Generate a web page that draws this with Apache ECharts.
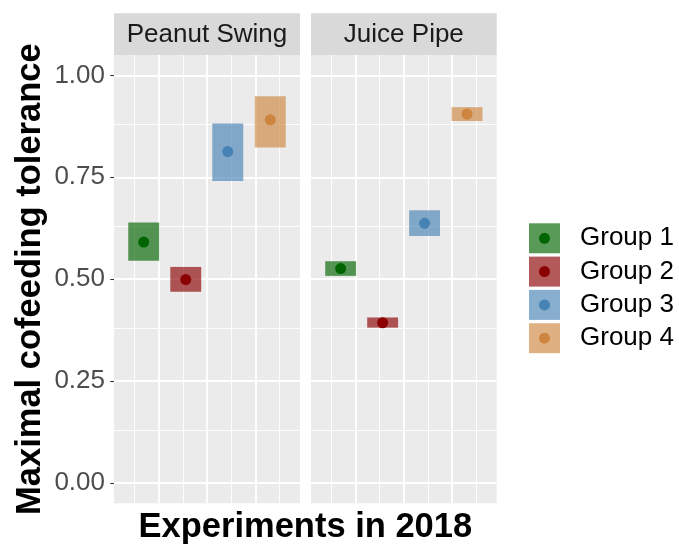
<!DOCTYPE html>
<html>
<head>
<meta charset="utf-8">
<script src="https://cdn.jsdelivr.net/npm/echarts@6/dist/echarts.min.js"></script>
<style>
  html, body { margin: 0; padding: 0; background: #ffffff; }
  #chart { width: 679px; height: 545px; }
</style>
</head>
<body>
<div id="chart"></div>
<script>
// Facets and groups
const panels = ['Peanut Swing', 'Juice Pipe'];
const groups = ['Group 1', 'Group 2', 'Group 3', 'Group 4'];
const groupX = [0.69, 1.56, 2.43, 3.31];

// Estimates with lower / upper bounds, one row per facet
const estimate = [
  [0.591, 0.499, 0.813, 0.891],
  [0.526, 0.393, 0.637, 0.905]
];
const lower = [
  [0.545, 0.469, 0.741, 0.823],
  [0.508, 0.381, 0.606, 0.888]
];
const upper = [
  [0.639, 0.530, 0.882, 0.949],
  [0.544, 0.406, 0.669, 0.922]
];

// Axis breaks
const yBreaks = [0, 0.25, 0.5, 0.75, 1];
const yMinorBreaks = [0.125, 0.375, 0.625, 0.875];
const xBreaks = [1, 2, 3];
const xMinorBreaks = [0.5, 1.5, 2.5, 3.5];

const pointColors = ['#006400', '#8B0000', '#4682B4', '#CD853F'];
const fillColors = ['rgba(0,100,0,0.65)', 'rgba(139,0,0,0.65)', 'rgba(70,130,180,0.65)', 'rgba(205,133,63,0.65)'];

const FONT = 'Liberation Sans, Arial, sans-serif';
const boxHalfWidth = 0.32;
const yRange = [-0.05, 1.05];
const xRange = [0.075, 3.925];

const panelBoxes = [
  { left: 114, width: 186 },
  { left: 311, width: 185.7 }
];
const panelTop = 55, panelHeight = 448.3;
const stripTop = 13.3, stripHeight = 41.7;

const grids = panelBoxes.map(b => ({
  left: b.left, top: panelTop, width: b.width, height: panelHeight,
  show: true, backgroundColor: '#EBEBEB', borderWidth: 0
}));

const xAxes = panelBoxes.map((b, i) => ({
  type: 'value', gridIndex: i, min: xRange[0], max: xRange[1], show: false
}));

const yAxes = panelBoxes.map((b, i) => ({
  type: 'value', gridIndex: i, min: yRange[0], max: yRange[1],
  show: i === 0,
  name: i === 0 ? 'Maximal cofeeding tolerance' : '',
  nameLocation: 'middle',
  nameGap: 66,
  nameTextStyle: { fontSize: 34.5, fontWeight: 'bold', color: '#000000', fontFamily: FONT },
  axisLine: { show: false },
  splitLine: { show: false },
  axisTick: { show: true, customValues: yBreaks, length: 3.7, lineStyle: { color: '#333333', width: 1.1 } },
  axisLabel: {
    show: true, customValues: yBreaks, margin: 9,
    fontSize: 26, color: '#4D4D4D', fontFamily: FONT,
    formatter: v => v.toFixed(2)
  }
}));

// Panel grid lines through each panel's own scales
function gridLineSeries(p) {
  const data = [];
  yMinorBreaks.forEach(v => data.push({ yAxis: v, lineStyle: { width: 0.9 } }));
  xMinorBreaks.forEach(v => data.push({ xAxis: v, lineStyle: { width: 0.9 } }));
  yBreaks.forEach(v => data.push({ yAxis: v, lineStyle: { width: 1.9 } }));
  xBreaks.forEach(v => data.push({ xAxis: v, lineStyle: { width: 1.9 } }));
  return {
    type: 'scatter', name: 'grid-' + p, xAxisIndex: p, yAxisIndex: p, data: [], z: 1,
    silent: true,
    markLine: {
      silent: true, z: 1, symbol: ['none', 'none'], label: { show: false },
      lineStyle: { color: '#FFFFFF', type: 'solid' },
      emphasis: { disabled: true },
      animation: false,
      data: data
    }
  };
}

const series = [];
panels.forEach((panel, p) => {
  series.push(gridLineSeries(p));
  groups.forEach((g, k) => {
    series.push({
      type: 'custom', name: g, xAxisIndex: p, yAxisIndex: p, z: 3,
      itemStyle: { color: fillColors[k] },
      data: [[groupX[k], lower[p][k], upper[p][k]]],
      renderItem: (params, api) => {
        const x = api.value(0), lo = api.value(1), hi = api.value(2);
        const a = api.coord([x - boxHalfWidth, hi]);
        const b = api.coord([x + boxHalfWidth, lo]);
        return {
          type: 'rect',
          shape: { x: a[0], y: a[1], width: b[0] - a[0], height: b[1] - a[1] },
          style: { fill: fillColors[k] }
        };
      }
    });
    series.push({
      type: 'scatter', name: g, xAxisIndex: p, yAxisIndex: p, z: 4,
      symbol: 'circle', symbolSize: 11,
      itemStyle: { color: pointColors[k], opacity: 1 },
      data: [[groupX[k], estimate[p][k]]]
    });
  });
});

// Facet strips and the shared x title
const graphics = [];
panels.forEach((panel, p) => {
  const b = panelBoxes[p];
  graphics.push({
    type: 'rect', silent: true,
    shape: { x: b.left, y: stripTop, width: b.width, height: stripHeight },
    style: { fill: '#D9D9D9' }
  });
  graphics.push({
    type: 'text', silent: true,
    x: b.left + b.width / 2, y: stripTop + stripHeight / 2 + 1,
    style: { text: panel, fill: '#1A1A1A', fontSize: 26, fontFamily: FONT, align: 'center', verticalAlign: 'middle' }
  });
});
graphics.push({
  type: 'text', silent: true,
  x: (panelBoxes[0].left + panelBoxes[1].left + panelBoxes[1].width) / 2, y: 527,
  style: { text: 'Experiments in 2018', fill: '#000000', fontSize: 34.5, fontWeight: 'bold', fontFamily: FONT, align: 'center', verticalAlign: 'middle' }
});

const option = {
  animation: false,
  textStyle: { fontFamily: FONT },
  grid: grids,
  xAxis: xAxes,
  yAxis: yAxes,
  legend: [
    {
      left: 529, top: 223.3, orient: 'vertical', selectedMode: false, padding: 0,
      itemWidth: 31, itemHeight: 30, itemGap: 3.3,
      textStyle: { fontSize: 26, color: '#000000', fontFamily: FONT, lineHeight: 30, padding: [0, 0, 0, 15] },
      data: groups.map((g, k) => ({ name: g, icon: 'rect', itemStyle: { color: fillColors[k], opacity: 1 } }))
    },
    {
      left: 539, top: 232.8, orient: 'vertical', selectedMode: false, padding: 0,
      itemWidth: 11, itemHeight: 11, itemGap: 22.3,
      textStyle: { fontSize: 1, color: 'rgba(0,0,0,0)', lineHeight: 11 },
      data: groups.map((g, k) => ({ name: g, icon: 'circle', itemStyle: { color: pointColors[k], opacity: 1 } }))
    }
  ],
  graphic: graphics,
  series: series
};

const chart = echarts.init(document.getElementById('chart'), null, { renderer: 'canvas' });
chart.setOption(option);
</script>
</body>
</html>
